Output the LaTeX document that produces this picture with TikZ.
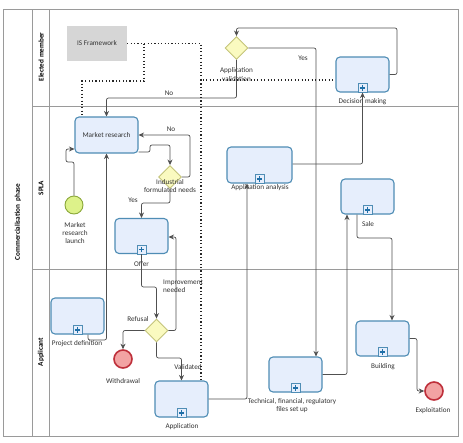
\documentclass[tikz,border=0pt]{standalone}
\usepackage{fontspec}
\setmainfont{Carlito}
\usetikzlibrary{arrows.meta,shapes.geometric}
\definecolor{taskf}{HTML}{E6EEFC}
\definecolor{taskb}{HTML}{4F8DB5}
\definecolor{markp}{HTML}{1F6FA8}
\definecolor{gwf}{HTML}{FAFAC0}
\definecolor{gwb}{HTML}{C4C47A}
\definecolor{stf}{HTML}{DDF28A}
\definecolor{stb}{HTML}{8BA83A}
\definecolor{enf}{HTML}{F2A3A3}
\definecolor{enb}{HTML}{BE2F3A}
\definecolor{isf}{HTML}{D6D6D6}
\definecolor{flow}{HTML}{505050}
\definecolor{lane}{HTML}{9A9A9A}
\definecolor{txt}{HTML}{333333}
\tikzset{
  x=1pt, y=-1pt,
  every node/.style={font=\fontsize{7.2}{8.2}\selectfont, text=txt},
  task/.style={draw=taskb, fill=taskf, rounded corners=4pt, line width=1.1pt,
    minimum width=53pt, minimum height=35pt, inner sep=0pt},
  gate/.style={diamond, draw=gwb, fill=gwf, line width=0.9pt,
    minimum width=23pt, minimum height=23pt, inner sep=0pt},
  startev/.style={circle, draw=stb, fill=stf, line width=0.9pt, minimum size=18pt, inner sep=0pt},
  endev/.style={circle, draw=enb, fill=enf, line width=1.6pt, minimum size=18pt, inner sep=0pt},
  flowline/.style={draw=flow, line width=0.7pt, rounded corners=2pt},
  arr/.style={flowline, -{Stealth[length=5.5pt,width=5pt]}},
  assoc/.style={draw=black!85, line width=1.2pt, dash pattern=on 1.1pt off 2.3pt},
  lanel/.style={draw=lane, line width=0.8pt},
  lanetxt/.style={rotate=90, font=\bfseries\fontsize{7.2}{8.2}\selectfont, text=black},
  mk/.style={draw=taskb, fill=taskf, line width=0.9pt},
  mkp/.style={draw=markp, line width=1.3pt},
  lab/.style={align=center, inner sep=0pt}
}
\newcommand\submark[1]{%
  \draw[mk] ([xshift=-4.5pt]#1.south) rectangle ([xshift=4.5pt,yshift=9pt]#1.south);
  \draw[mkp] ([xshift=-2.7pt,yshift=4.5pt]#1.south) -- ([xshift=2.7pt,yshift=4.5pt]#1.south);
  \draw[mkp] ([yshift=1.8pt]#1.south) -- ([yshift=7.2pt]#1.south);}
\begin{document}
\begin{tikzpicture}
\useasboundingbox (0,0) rectangle (463,442);
\fill[white] (0,0) rectangle (463,442);
% pool and lanes
\draw[lanel] (3,9) rectangle (458,436);
\draw[lanel] (32,9) -- (32,436);
\draw[lanel] (49,9) -- (49,436);
\draw[lanel] (32,106) -- (458,106);
\draw[lanel] (32,269) -- (458,269);
\node[lanetxt] (pool) at (18,222) {Commercialisation\ \ phase};
\node[lanetxt] (l1) at (41,57) {Elected member};
\node[lanetxt] (l2) at (41,188) {SPLA};
\node[lanetxt] (l3) at (41,352) {Applicant};

% nodes
\node[fill=isf, minimum width=60pt, minimum height=35pt, inner sep=0pt] (isfw) at (97,43.5) {IS Framework};
\node[task, minimum width=63pt, minimum height=36pt] (mr) at (106.5,135) {Market research};
\node[task] (offer) at (141.5,236) {};
\node[task, minimum width=65pt, minimum height=36pt] (aa) at (259.5,165) {};
\node[task] (sale) at (367.5,196.5) {};
\node[task] (dm) at (362.5,74.5) {};
\node[task, minimum height=36pt] (pd) at (77.5,316) {};
\node[task, minimum height=36pt] (app) at (181.5,399) {};
\node[task] (tech) at (295.5,374.5) {};
\node[task] (bld) at (382.5,338.5) {};
\foreach \n in {offer,aa,sale,dm,pd,app,tech,bld}{\submark{\n}}

\node[gate] (av) at (236.5,48) {};
\node[gate] (ind) at (170,177) {};
\node[gate] (ref) at (156.5,330.5) {};
\node[startev] (st) at (74,205) {};
\node[endev] (wd) at (123,359) {};
\node[endev] (ex) at (434,391) {};

% node labels
\node[lab] (t-av) at (236.5,74.5) {Application\\validation};
\node[lab] (t-dm) at (362.5,102) {Decision making};
\node[lab] (t-ind) at (170,186) {Industrial\\formulated needs};
\node[lab] (t-st) at (75,233) {Market\\research\\launch};
\node[lab] (t-of) at (141.5,264) {Offer};
\node[lab] (t-aa) at (260,187.5) {Application analysis};
\node[lab] (t-sa) at (368,224) {Sale};
\node[lab] (t-pd) at (77,344) {Project definition};
\node[lab] (t-wd) at (123,381) {Withdrawal};
\node[lab] (t-ap) at (182,427) {Application};
\node[lab] (t-te) at (292,405.5) {Technical, financial, regulatory\\files set up};
\node[lab] (t-bl) at (383,367) {Building};
\node[lab] (t-ex) at (433,411) {Exploitation};

% sequence flows
\draw[arr] (st.north) -- (74,162) -- (66,162) -- (66,149) -- (mr.west |- 0,149);
\draw[arr] (mr.east |- 0,152) -- (150,152) -- (150,145) -- (ind.north |- 0,145) -- (ind.north);
\draw[arr] (ind.east) -- (190,177) -- (190,135) -- (mr.east |- 0,135);
\node[lab] (e-no1) at (171,129) {No};
\draw[arr] (ind.south) -- (ind.south |- 0,203) -- (offer.north |- 0,203) -- (offer.north);
\node[lab] (e-yes1) at (133,200) {Yes};
\draw[arr] (offer.south) -- (offer.south |- 0,287) -- (ref.north |- 0,287) -- (ref.north);
\draw[arr] (ref.east) -- (176,330.5) -- (176,237) -- (offer.east |- 0,237);
\node[lab, align=left, anchor=west] (e-imp) at (163,286) {Improvement\\needed};
\draw[arr] (ref.west) -- (wd.north |- ref.west) -- (wd.north);
\node[lab] (e-ref) at (138,319) {Refusal};
\draw[arr] (ref.south) -- (ref.south |- 0,358) -- (app.north |- 0,358) -- (app.north);
\node[lab] (e-val) at (188,367) {Validated};
\draw[arr] (pd.south -| 88,0) -- (88,340) -- (106.5,340) -- (mr.south);
\draw[arr] (app.east) -- (247,399) -- (aa.south -| 247,0);
\draw[arr] (aa.east |- 0,164) -- (362.5,164) -- (dm.south);
\draw[arr] (dm.east) -- (397,74.5) -- (397,28) -- (av.north |- 0,28) -- (av.north);
\draw[arr] (av.south) -- (av.south |- 0,98) -- (mr.north |- 0,98) -- (mr.north);
\node[lab] (e-no2) at (169,93) {No};
\draw[arr] (av.east) -- (av.east -| 316,0) -- (tech.north -| 316,0);
\node[lab] (e-yes2) at (303,58) {Yes};
\draw[arr] (tech.east) -- (347,374.5) -- (sale.south -| 347,0);
\draw[arr] (sale.south -| 357,0) -- (357,238) -- (392,238) -- (bld.north -| 392,0);
\draw[arr] (bld.east) -- (417,338.5) -- (417,391) -- (ex.west);

% associations
\draw[assoc] (isfw.east) -- (201,43.5) -- (201,80) -- (dm.west |- 0,80);
\draw[assoc] (144,43.5) -- (144,81) -- (82,81) -- (mr.north -| 82,0);
\draw[assoc] (201,80) -- (app.north -| 201,0);
\end{tikzpicture}
\end{document}
